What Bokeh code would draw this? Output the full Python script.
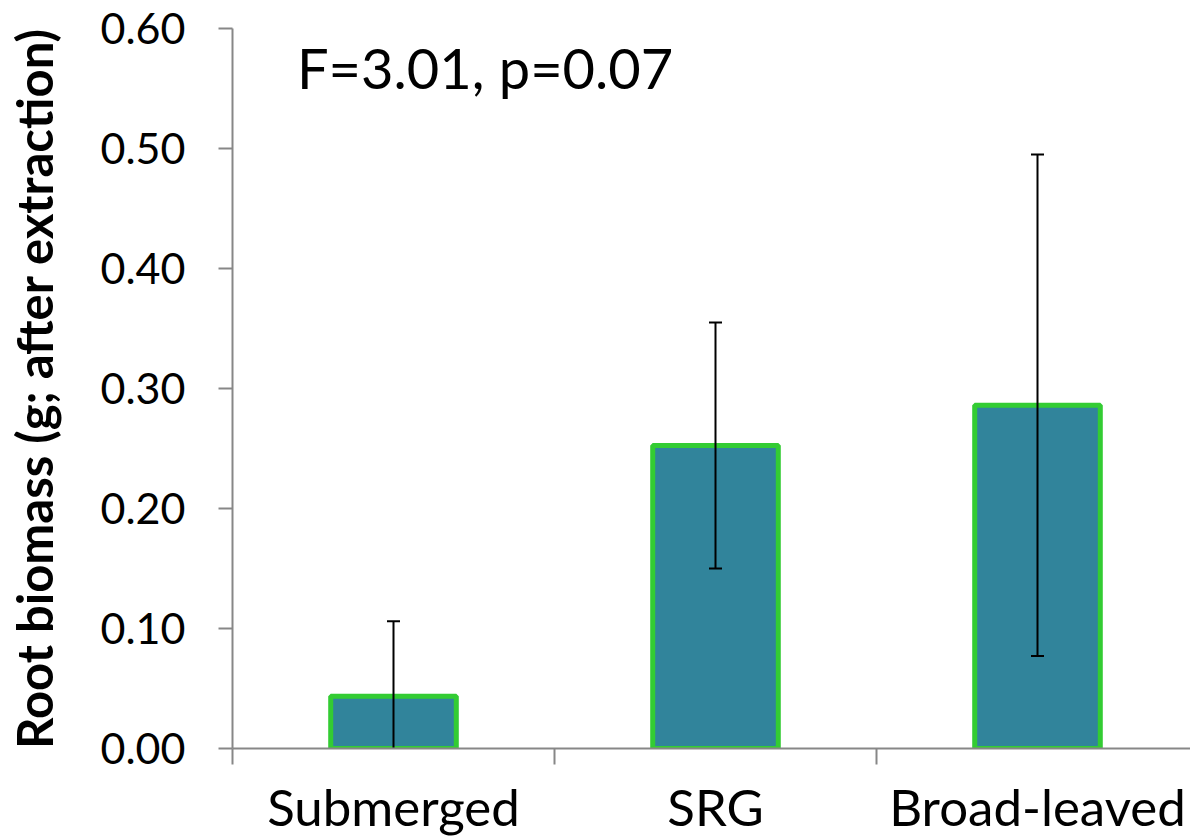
import numpy as np
from bokeh.plotting import figure
from bokeh.models import Range1d, FixedTicker, NumeralTickFormatter, Label
from bokeh.embed import file_html
from bokeh.resources import INLINE

categories = ["Submerged", "SRG", "Broad-leaved"]
means = [0.0435, 0.2525, 0.286]
errors = [0.0625, 0.1025, 0.209]
y_ticks = [0.0, 0.1, 0.2, 0.3, 0.4, 0.5, 0.6]
y_title = "Root biomass (g; after extraction)"
stat_text = "F=3.01, p=0.07"

FONT = "Lato"
AXIS_GRAY = "#878787"

xs = np.arange(len(categories)) + 0.5
means_a = np.array(means)
err_a = np.array(errors)
upper = means_a + err_a
lower = means_a - err_a

p = figure(width=1190, height=840, output_backend="svg", toolbar_location=None,
           x_range=Range1d(0, 958 / 322), y_range=Range1d(0, 0.6),
           min_border_left=232, min_border_right=0, min_border_top=28, min_border_bottom=92)
p.outline_line_color = None
p.xgrid.grid_line_color = None
p.ygrid.grid_line_color = None
p.background_fill_color = "white"
p.border_fill_color = "white"

p.vbar(x=xs, top=means_a, bottom=0, width=0.39, fill_color="#31849B",
       line_color="#33CC33", line_width=5)

p.segment(x0=xs, y0=lower, x1=xs, y1=upper, line_color="black", line_width=2)
p.scatter(x=np.concatenate([xs, xs]), y=np.concatenate([upper, lower]), marker="dash",
          size=13, line_color="black", line_width=2)

# x axis
xa = p.xaxis[0]
xa.ticker = FixedTicker(ticks=list(xs), minor_ticks=list(np.arange(len(categories) + 1)))
xa.major_label_overrides = {float(x): c for x, c in zip(xs, categories)}
xa.major_tick_line_color = None
xa.major_tick_out = 0
xa.major_tick_in = 0
xa.minor_tick_out = 16
xa.minor_tick_in = 0
xa.minor_tick_line_color = AXIS_GRAY
xa.minor_tick_line_width = 2
xa.axis_line_color = AXIS_GRAY
xa.axis_line_width = 2
xa.major_label_text_font = FONT
xa.major_label_text_font_size = "51px"
xa.major_label_text_color = "black"
xa.major_label_standoff = 11

# y axis
ya = p.yaxis[0]
ya.ticker = FixedTicker(ticks=y_ticks, minor_ticks=[])
ya.formatter = NumeralTickFormatter(format="0.00")
ya.major_tick_out = 14
ya.major_tick_in = 0
ya.major_tick_line_color = AXIS_GRAY
ya.major_tick_line_width = 2
ya.axis_line_color = AXIS_GRAY
ya.axis_line_width = 2
ya.major_label_text_font = FONT
ya.major_label_text_font_size = "43px"
ya.major_label_text_color = "black"
ya.major_label_standoff = 33
ya.axis_label = y_title
ya.axis_label_text_font = FONT
ya.axis_label_text_font_style = "bold"
ya.axis_label_text_font_size = "49px"
ya.axis_label_text_color = "black"
ya.axis_label_standoff = 35

p.add_layout(Label(x=0.2, y=0.5675, text=stat_text, text_font=FONT, text_font_size="56px",
                   text_color="black", text_baseline="alphabetic", text_align="left"))

open("out.html", "w").write(file_html(p, INLINE))
